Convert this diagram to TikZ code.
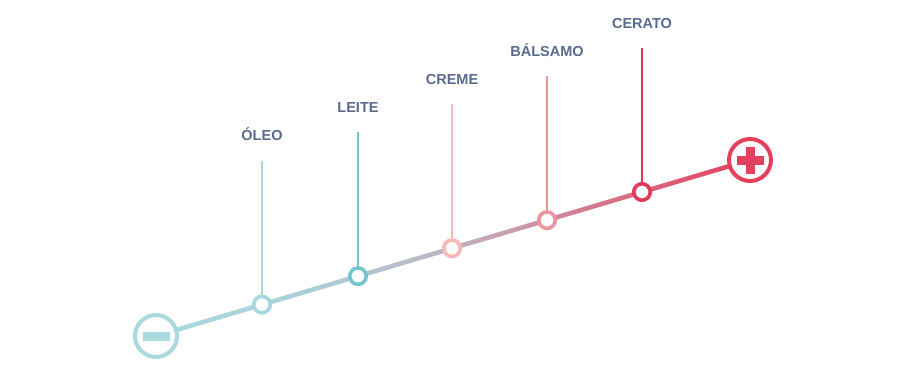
\documentclass[tikz,border=0pt]{standalone}
\usepackage{fontspec}
\setmainfont{Liberation Sans}
\usetikzlibrary{calc}
\usetikzlibrary{backgrounds}
\definecolor{lowcol}{RGB}{170,217,222}
\definecolor{oleocol}{RGB}{168,216,221}
\definecolor{leitecol}{RGB}{118,196,208}
\definecolor{cremecol}{RGB}{246,183,185}
\definecolor{balsamocol}{RGB}{238,148,159}
\definecolor{ceratocol}{RGB}{226,58,88}
\definecolor{highcol}{RGB}{227,64,94}
\definecolor{tealgrey}{RGB}{171,207,216}
\definecolor{midcol}{RGB}{185,189,203}
\definecolor{mauvecol}{RGB}{199,162,178}
\definecolor{rosecol}{RGB}{214,120,142}
\definecolor{tagcol}{RGB}{90,106,142}
\pgfdeclarehorizontalshading{scaleline}{100bp}{color(0bp)=(lowcol); color(25bp)=(lowcol);
  color(38bp)=(tealgrey); color(46bp)=(midcol); color(54bp)=(mauvecol);
  color(62bp)=(rosecol); color(75bp)=(highcol); color(100bp)=(highcol)}
\tikzset{basic dot/.style={draw,circle,fill=white,inner sep=0pt}}
\tikzset{dot/.style={basic dot,minimum size=16.5pt,line width=3.6pt}}
\tikzset{end dot/.style={basic dot,minimum size=42pt,line width=4pt}}
\tikzset{stem/.style={draw,line width=2pt}}
\tikzset{tag/.style={font=\fontsize{14.5}{16}\selectfont\bfseries,
                     text=tagcol,
                     anchor=base,
                     inner sep=0pt}}

\begin{document}
\begin{tikzpicture}
      [
      x=1pt,y=-1pt,
      ]
      \useasboundingbox (0,0) rectangle (904,370);

      % end points
      \node [end dot,draw=lowcol] (minus) at (156,336) {};
      \node [end dot,draw=highcol] (plus) at (750,160) {};
      \fill [lowcol] ($(minus)+(-13.5,-4.5)$) rectangle +(27,9);
      \fill [highcol] ($(plus)+(-13.5,-4.5)$) rectangle +(27,9);
      \fill [highcol] ($(plus)+(-4.5,-13.5)$) rectangle +(9,27);

      % scale line
      \begin{scope}[on background layer]
      \shade [shading=scaleline]
      ($(minus)!2.3pt!90:(plus)$) -- ($(plus)!2.3pt!-90:(minus)$) --
      ($(plus)!2.3pt!90:(minus)$) -- ($(minus)!2.3pt!-90:(plus)$) -- cycle;
      \end{scope}

      % products
      \foreach \i/\x/\l/\c [evaluate=\x as \y using 336-(\x-156)*0.2963] in
      {
      1/262/ÓLEO/oleocol,
      2/358/LEITE/leitecol,
      3/452/CREME/cremecol,
      4/547/BÁLSAMO/balsamocol,
      5/642/CERATO/ceratocol}
      {
      \node [dot,draw=\c] (P\i) at (\x,\y) {};
      \coordinate (T\i) at (\x,\y-144);
      \draw [stem,\c] (P\i.north) -- (T\i);
      \node [tag] (L\i) at (\x,\y-164) {\l};
      }

    \end{tikzpicture}
\end{document}
